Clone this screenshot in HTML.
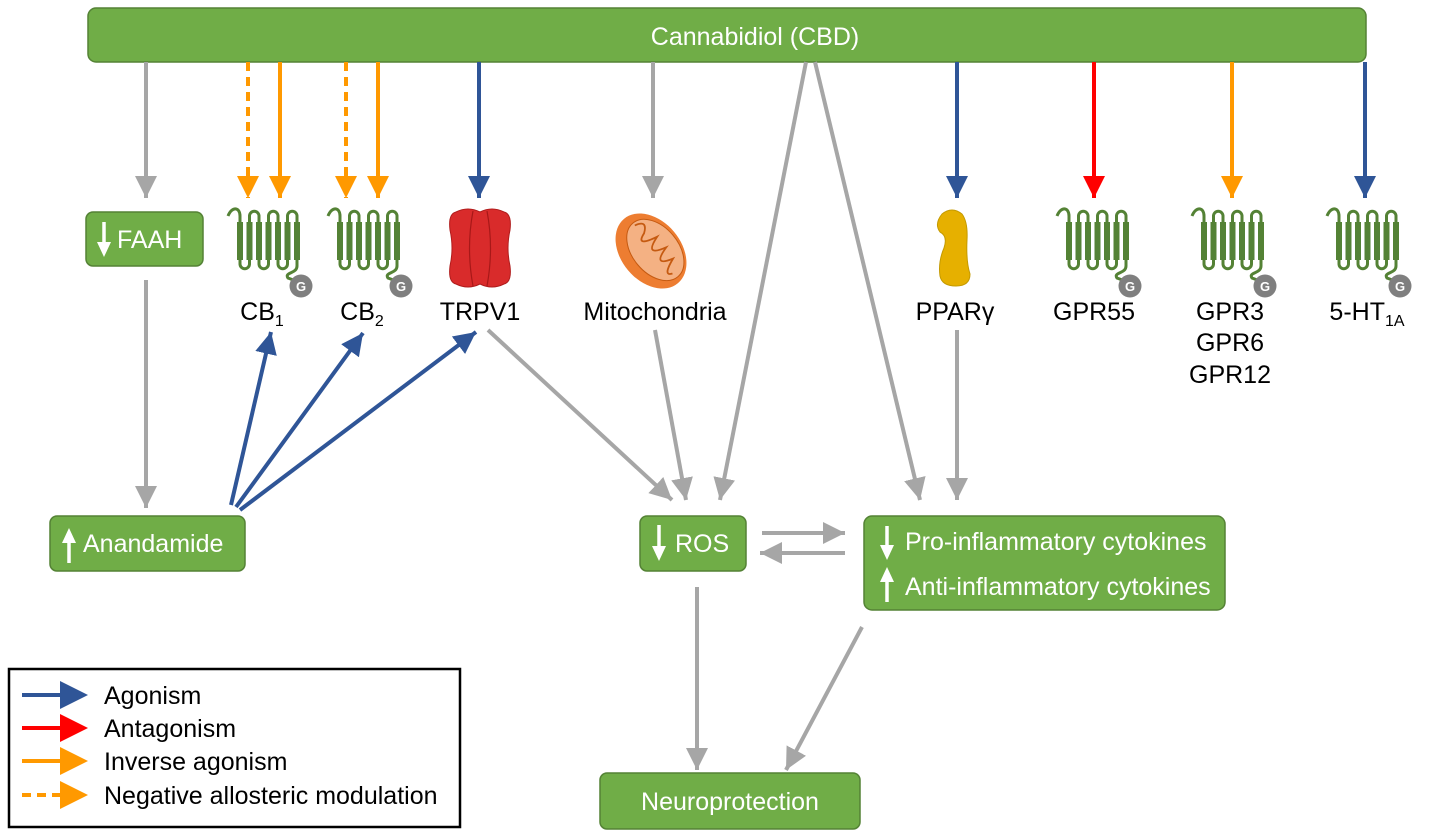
<!DOCTYPE html>
<html><head><meta charset="utf-8"><style>
html,body{margin:0;padding:0;background:#fff}
svg{display:block}
text{font-family:"Liberation Sans",Arial,sans-serif}
</style></head><body>
<svg width="1429" height="837" viewBox="0 0 1429 837" xmlns="http://www.w3.org/2000/svg">
<defs>
<marker id="hg" markerUnits="userSpaceOnUse" markerWidth="24" markerHeight="24" viewBox="0 0 24 24" refX="22" refY="12" orient="auto"><path d="M0 1 L22 12 L0 23 z" fill="#a6a6a6"/></marker>
<marker id="hb" markerUnits="userSpaceOnUse" markerWidth="24" markerHeight="24" viewBox="0 0 24 24" refX="22" refY="12" orient="auto"><path d="M0 1 L22 12 L0 23 z" fill="#2f5597"/></marker>
<marker id="hr" markerUnits="userSpaceOnUse" markerWidth="24" markerHeight="24" viewBox="0 0 24 24" refX="22" refY="12" orient="auto"><path d="M0 1 L22 12 L0 23 z" fill="#ff0000"/></marker>
<marker id="ho" markerUnits="userSpaceOnUse" markerWidth="24" markerHeight="24" viewBox="0 0 24 24" refX="22" refY="12" orient="auto"><path d="M0 1 L22 12 L0 23 z" fill="#ff9900"/></marker>
<g id="gpcr">
 <path d="M-4 8 C0 -2 8 -1 8 8 L8 56 A4.75 4.75 0 0 0 17.5 56 L17.5 8 A4.75 4.75 0 0 1 27 8 L27 56 A4.75 4.75 0 0 0 36.5 56 L36.5 8 A4.75 4.75 0 0 1 46 8 L46 56 A4.75 4.75 0 0 0 55.5 56 L55.5 8 A4.75 4.75 0 0 1 65 8 L65 58 C65 66 52 64 56 70 L64 73" fill="none" stroke="#548235" stroke-width="3"/>
 <rect x="5" y="14" width="6" height="38" fill="#548235"/>
 <rect x="14.5" y="14" width="6" height="38" fill="#548235"/>
 <rect x="24" y="14" width="6" height="38" fill="#548235"/>
 <rect x="33.5" y="14" width="6" height="38" fill="#548235"/>
 <rect x="43" y="14" width="6" height="38" fill="#548235"/>
 <rect x="52.5" y="14" width="6" height="38" fill="#548235"/>
 <rect x="62" y="14" width="6" height="38" fill="#548235"/>
 <circle cx="69" cy="78" r="11.5" fill="#7f7f7f"/>
 <text x="69" y="83" font-size="13" font-weight="bold" fill="#fff" text-anchor="middle">G</text>
</g>
</defs>

<rect x="88" y="8" width="1278" height="54" rx="8" fill="#70ad47" stroke="#548235" stroke-width="1.5"/>
<text x="755" y="45" font-size="25" fill="#fff" text-anchor="middle">Cannabidiol (CBD)</text>

<g stroke-width="4" fill="none">
<line x1="146" y1="62" x2="146" y2="198" stroke="#a6a6a6" marker-end="url(#hg)"/>
<line x1="248" y1="62" x2="248" y2="198" stroke="#ff9900" stroke-dasharray="9,6" marker-end="url(#ho)"/>
<line x1="280" y1="62" x2="280" y2="198" stroke="#ff9900" marker-end="url(#ho)"/>
<line x1="346" y1="62" x2="346" y2="198" stroke="#ff9900" stroke-dasharray="9,6" marker-end="url(#ho)"/>
<line x1="378" y1="62" x2="378" y2="198" stroke="#ff9900" marker-end="url(#ho)"/>
<line x1="479" y1="62" x2="479" y2="198" stroke="#2f5597" marker-end="url(#hb)"/>
<line x1="653" y1="62" x2="653" y2="198" stroke="#a6a6a6" marker-end="url(#hg)"/>
<line x1="957" y1="62" x2="957" y2="198" stroke="#2f5597" marker-end="url(#hb)"/>
<line x1="1094" y1="62" x2="1094" y2="198" stroke="#ff0000" marker-end="url(#hr)"/>
<line x1="1232" y1="62" x2="1232" y2="198" stroke="#ff9900" marker-end="url(#ho)"/>
<line x1="1365" y1="62" x2="1365" y2="198" stroke="#2f5597" marker-end="url(#hb)"/>

<line x1="146" y1="280" x2="146" y2="508" stroke="#a6a6a6" marker-end="url(#hg)"/>
<line x1="231" y1="505" x2="271" y2="332" stroke="#2f5597" marker-end="url(#hb)"/>
<line x1="236" y1="507" x2="363" y2="333" stroke="#2f5597" marker-end="url(#hb)"/>
<line x1="240" y1="510" x2="476" y2="332" stroke="#2f5597" marker-end="url(#hb)"/>

<line x1="488" y1="330" x2="672" y2="500" stroke="#a6a6a6" marker-end="url(#hg)"/>
<line x1="655" y1="330" x2="686" y2="500" stroke="#a6a6a6" marker-end="url(#hg)"/>
<line x1="806" y1="62" x2="720" y2="500" stroke="#a6a6a6" marker-end="url(#hg)"/>
<line x1="815" y1="62" x2="920" y2="500" stroke="#a6a6a6" marker-end="url(#hg)"/>
<line x1="957" y1="330" x2="957" y2="500" stroke="#a6a6a6" marker-end="url(#hg)"/>

<line x1="762" y1="533" x2="845" y2="533" stroke="#a6a6a6" marker-end="url(#hg)"/>
<line x1="845" y1="553" x2="760" y2="553" stroke="#a6a6a6" marker-end="url(#hg)"/>
<line x1="697" y1="587" x2="697" y2="770" stroke="#a6a6a6" marker-end="url(#hg)"/>
<line x1="862" y1="627" x2="786" y2="770" stroke="#a6a6a6" marker-end="url(#hg)"/>
</g>

<rect x="86" y="212" width="117" height="54" rx="7" fill="#70ad47" stroke="#548235" stroke-width="1.5"/>
<path d="M104 222 L104 244" stroke="#fff" stroke-width="3.5"/><path d="M97 242 L104 257 L111 242 z" fill="#fff"/>
<text x="117" y="248" font-size="25" fill="#fff">FAAH</text>

<use href="#gpcr" x="232" y="208"/>
<use href="#gpcr" x="332" y="208"/>
<use href="#gpcr" x="1061" y="208"/>
<use href="#gpcr" x="1196" y="208"/>
<use href="#gpcr" x="1331" y="208"/>

<path d="M456 212 Q468 206 480 212 Q492 206 504 212 Q512 214 510 230 Q506 248 510 266 Q512 282 504 284 Q492 290 480 284 Q468 290 456 284 Q448 282 450 266 Q454 248 450 230 Q448 214 456 212 z" fill="#d92b2b" stroke="#b01c1c" stroke-width="1"/>
<path d="M473 211 Q466 248 473 286 M487 211 Q494 248 487 286" fill="none" stroke="#a81818" stroke-width="1.2"/>

<g transform="translate(651,251) rotate(50)">
<ellipse cx="0" cy="0" rx="42" ry="30" fill="#ed7d31"/>
<ellipse cx="2" cy="-4" rx="35" ry="23" fill="#f4b183" stroke="#c55a11" stroke-width="1"/>
<path d="M-30 -4 Q-26 -18 -18 -6 Q-13 10 -7 -14 Q0 10 7 -14 Q13 10 20 -12 Q27 8 31 -2" fill="none" stroke="#c55a11" stroke-width="1.8"/>
</g>

<path d="M942 214 Q952 206 962 214 Q968 222 967 240 Q966 262 970 274 Q970 286 956 286 Q942 286 940 276 Q938 262 944 248 Q948 236 940 232 Q934 224 942 214 z" fill="#e6b000" stroke="#c49a00" stroke-width="1"/>

<g font-size="25" fill="#000" text-anchor="middle">
<text x="262" y="320">CB<tspan font-size="16" dy="6">1</tspan></text>
<text x="362" y="320">CB<tspan font-size="16" dy="6">2</tspan></text>
<text x="480" y="320">TRPV1</text>
<text x="655" y="320">Mitochondria</text>
<text x="955" y="320">PPARγ</text>
<text x="1094" y="320">GPR55</text>
<text x="1230" y="320">GPR3</text>
<text x="1230" y="351">GPR6</text>
<text x="1230" y="383">GPR12</text>
<text x="1367" y="320">5-HT<tspan font-size="16" dy="6">1A</tspan></text>
</g>

<rect x="50" y="516" width="195" height="55" rx="7" fill="#70ad47" stroke="#548235" stroke-width="1.5"/>
<path d="M69 563 L69 541" stroke="#fff" stroke-width="3.5"/><path d="M62 543 L69 528 L76 543 z" fill="#fff"/>
<text x="83" y="552" font-size="25" fill="#fff">Anandamide</text>

<rect x="640" y="516" width="106" height="55" rx="7" fill="#70ad47" stroke="#548235" stroke-width="1.5"/>
<path d="M659 525 L659 548" stroke="#fff" stroke-width="3.5"/><path d="M652 546 L659 561 L666 546 z" fill="#fff"/>
<text x="675" y="552" font-size="25" fill="#fff">ROS</text>

<rect x="864" y="516" width="361" height="94" rx="8" fill="#70ad47" stroke="#548235" stroke-width="1.5"/>
<path d="M887 526 L887 547" stroke="#fff" stroke-width="3.5"/><path d="M880 545 L887 560 L894 545 z" fill="#fff"/>
<text x="905" y="550" font-size="25" fill="#fff">Pro-inflammatory cytokines</text>
<path d="M887 602 L887 580" stroke="#fff" stroke-width="3.5"/><path d="M880 582 L887 567 L894 582 z" fill="#fff"/>
<text x="905" y="595" font-size="25" fill="#fff">Anti-inflammatory cytokines</text>

<rect x="600" y="773" width="260" height="56" rx="7" fill="#70ad47" stroke="#548235" stroke-width="1.5"/>
<text x="730" y="810" font-size="25" fill="#fff" text-anchor="middle">Neuroprotection</text>

<rect x="9" y="669" width="451" height="158" fill="#fff" stroke="#000" stroke-width="2.5"/>
<g stroke-width="4" fill="none">
<line x1="22" y1="695" x2="64" y2="695" stroke="#2f5597"/>
<line x1="22" y1="728" x2="64" y2="728" stroke="#ff0000"/>
<line x1="22" y1="761" x2="64" y2="761" stroke="#ff9900"/>
<line x1="22" y1="795" x2="64" y2="795" stroke="#ff9900" stroke-dasharray="9,6"/>
</g>
<path d="M60 681 L88 695 L60 709 z" fill="#2f5597"/>
<path d="M60 714 L88 728 L60 742 z" fill="#ff0000"/>
<path d="M60 747 L88 761 L60 775 z" fill="#ff9900"/>
<path d="M60 781 L88 795 L60 809 z" fill="#ff9900"/>
<g font-size="25" fill="#000">
<text x="104" y="704">Agonism</text>
<text x="104" y="737">Antagonism</text>
<text x="104" y="770">Inverse agonism</text>
<text x="104" y="804">Negative allosteric modulation</text>
</g>
</svg>
</body></html>
